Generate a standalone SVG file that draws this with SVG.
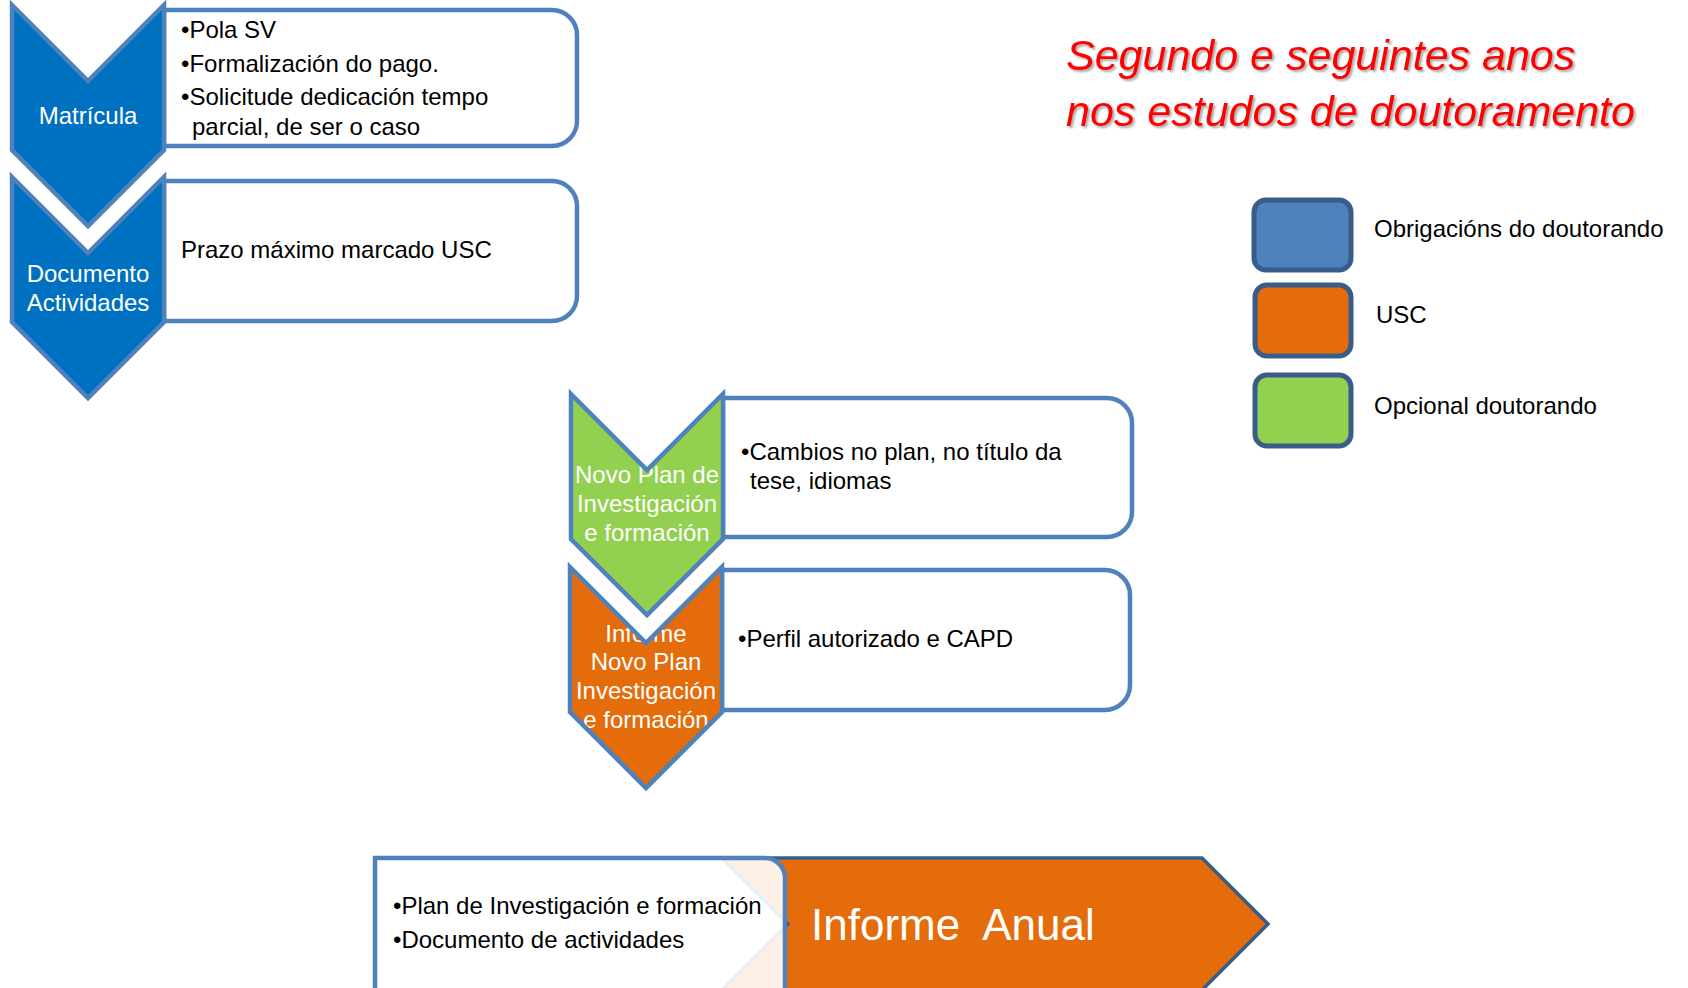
<svg xmlns="http://www.w3.org/2000/svg" xmlns:xlink="http://www.w3.org/1999/xlink" width="1688" height="988" viewBox="0 0 1688 988">
<defs>
<style>
text{font-family:"Liberation Sans",Arial,sans-serif;font-size:24px;fill:#000}
.w{fill:#fff;text-anchor:middle}
.box{fill:#fff;stroke:#4F81BD;stroke-width:4.5}
.outline{fill:none;stroke:#4F81BD;stroke-width:4.5;stroke-linejoin:miter}
.blue{fill:#0070C0}
.green{fill:#92D050}
.orange{fill:#E46C0A}
.leg{stroke:#385D8A;stroke-width:5}
.title{font-size:43px;font-style:italic;fill:#FF0000}
</style>
<path id="chev" d="M0,0 L76,76 L152,0 L152,145 L76,221 L0,145 Z"/>
<filter id="shadow" x="-5%" y="-20%" width="110%" height="140%">
<feDropShadow dx="2" dy="2" stdDeviation="1.2" flood-color="#000" flood-opacity="0.35"/>
</filter>
</defs>
<rect width="1688" height="988" fill="#fff"/>

<g id="box-matricula">
<path class="box" d="M164,10 H552 A25,25 0 0 1 577,35 V121 A25,25 0 0 1 552,146 H164 Z"/>
<text x="181" y="38">•Pola SV</text>
<text x="181" y="72">•Formalización do pago.</text>
<text x="181" y="105">•Solicitude dedicación tempo</text>
<text x="192" y="135">parcial, de ser o caso</text>
</g>

<g id="box-documento">
<path class="box" d="M164,181 H552 A25,25 0 0 1 577,206 V296 A25,25 0 0 1 552,321 H164 Z"/>
<text x="181" y="258">Prazo máximo marcado USC</text>
</g>

<g id="chevron-matricula">
<use href="#chev" x="12" y="5" class="blue"/>
<text class="w" x="88" y="124">Matrícula</text>
<use href="#chev" x="12" y="5" class="outline"/>
</g>

<g id="chevron-documento">
<use href="#chev" x="12" y="177" class="blue"/>
<text class="w" x="88" y="282">Documento</text>
<text class="w" x="88" y="311">Actividades</text>
<use href="#chev" x="12" y="177" class="outline"/>
</g>

<g id="box-cambios">
<path class="box" d="M723,398 H1107 A25,25 0 0 1 1132,423 V512 A25,25 0 0 1 1107,537 H723 Z"/>
<text x="741" y="460">•Cambios no plan, no título da</text>
<text x="750" y="489">tese, idiomas</text>
</g>

<g id="box-perfil">
<path class="box" d="M722,570 H1105 A25,25 0 0 1 1130,595 V685 A25,25 0 0 1 1105,710 H722 Z"/>
<text x="738" y="647">•Perfil autorizado e CAPD</text>
</g>

<g id="chevron-informe-novo-plan">
<use href="#chev" x="570" y="567" class="orange"/>
<text class="w" x="646" y="642">Informe</text>
<text class="w" x="646" y="670">Novo Plan</text>
<text class="w" x="646" y="699">Investigación</text>
<text class="w" x="646" y="728">e formación</text>
<use href="#chev" x="570" y="567" class="outline"/>
</g>

<g id="chevron-novo-plan">
<use href="#chev" x="571" y="394" class="green"/>
<text class="w" x="647" y="483">Novo Plan de</text>
<text class="w" x="647" y="512">Investigación</text>
<text class="w" x="647" y="541">e formación</text>
<use href="#chev" x="571" y="394" class="outline"/>
</g>

<g id="informe-anual">
<path d="M722,858 H1202 L1268,924 L1202,990 H722 L788,924 Z" fill="#E46C0A" stroke="#385D8A" stroke-width="3.5"/>
<path d="M375,858 H765 A20,20 0 0 1 785,878 V1000 H375 Z" fill="#fff" fill-opacity="0.9" stroke="#4F81BD" stroke-width="4.5"/>
<text x="393" y="914">•Plan de Investigación e formación</text>
<text x="393" y="948">•Documento de actividades</text>
<text x="811" y="940" style="font-size:44px;fill:#fff;white-space:pre" xml:space="preserve">Informe  Anual</text>
</g>

<g id="title" filter="url(#shadow)">
<text class="title" x="1066" y="70">Segundo e seguintes anos</text>
<text class="title" x="1066" y="126">nos estudos de doutoramento</text>
</g>

<g id="legend">
<g id="legend-obrigacions">
<rect class="leg" x="1254" y="200" width="97" height="70" rx="12" fill="#4F81BD"/>
<text x="1374" y="237">Obrigacións do doutorando</text>
</g>
<g id="legend-usc">
<rect class="leg" x="1255" y="285" width="96" height="71" rx="12" fill="#E46C0A"/>
<text x="1376" y="323">USC</text>
</g>
<g id="legend-opcional">
<rect class="leg" x="1255" y="375" width="96" height="71" rx="12" fill="#92D050"/>
<text x="1374" y="414">Opcional doutorando</text>
</g>
</g>

<g id="connectors"/>
</svg>
